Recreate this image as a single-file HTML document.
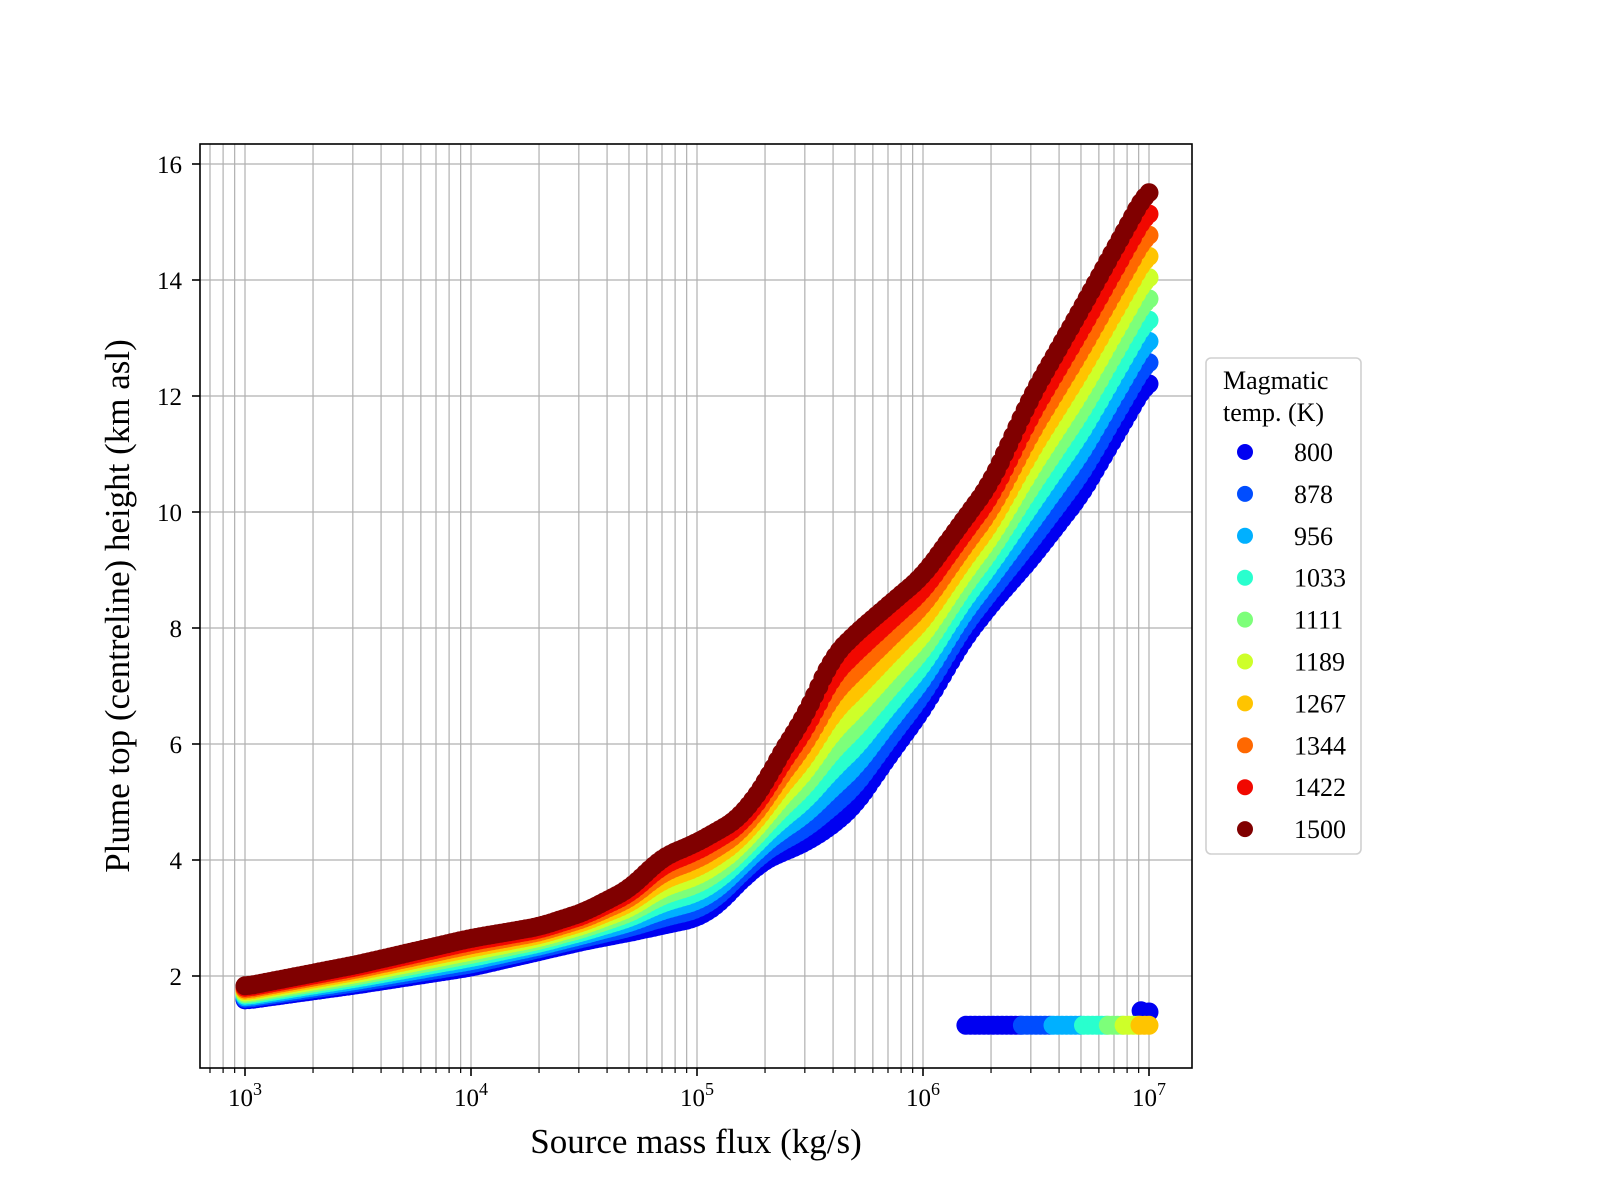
<!DOCTYPE html>
<html><head><meta charset="utf-8"><style>html,body{margin:0;padding:0;background:#fff}svg{display:block}text{font-family:"Liberation Serif",serif;fill:#000}</style></head>
<body>
<svg id="s" width="1600" height="1200" xmlns="http://www.w3.org/2000/svg">
<rect width="1600" height="1200" fill="#fff"/>
<g id="grid"></g>
<g id="data"></g>
<rect x="200" y="144" width="992" height="924" fill="none" stroke="#000" stroke-width="1.6"/>
<g id="ticks"></g>
<g font-size="25">
<text x="245" y="1106" text-anchor="middle">10<tspan dy="-11" font-size="18">3</tspan></text>
<text x="471" y="1106" text-anchor="middle">10<tspan dy="-11" font-size="18">4</tspan></text>
<text x="697" y="1106" text-anchor="middle">10<tspan dy="-11" font-size="18">5</tspan></text>
<text x="923" y="1106" text-anchor="middle">10<tspan dy="-11" font-size="18">6</tspan></text>
<text x="1149" y="1106" text-anchor="middle">10<tspan dy="-11" font-size="18">7</tspan></text>
<text x="182" y="985" text-anchor="end">2</text>
<text x="182" y="869" text-anchor="end">4</text>
<text x="182" y="753" text-anchor="end">6</text>
<text x="182" y="637" text-anchor="end">8</text>
<text x="182" y="521" text-anchor="end">10</text>
<text x="182" y="405" text-anchor="end">12</text>
<text x="182" y="289" text-anchor="end">14</text>
<text x="182" y="173" text-anchor="end">16</text>
</g>
<text x="696" y="1153" text-anchor="middle" font-size="35">Source mass flux (kg/s)</text>
<text transform="translate(129,606) rotate(-90)" text-anchor="middle" font-size="35">Plume top (centreline) height (km asl)</text>
<rect x="1206" y="358" width="155" height="496" rx="5" fill="#fff" stroke="#d0d0d0" stroke-width="1.6"/>
<text x="1223" y="389" font-size="26">Magmatic</text>
<text x="1223" y="421" font-size="26">temp. (K)</text>
<g id="leg" font-size="26"></g>
</svg>
<script>
(function(){
const NS="http://www.w3.org/2000/svg";
function el(p,t,a){const e=document.createElementNS(NS,t);for(const k in a)e.setAttribute(k,a[k]);p.appendChild(e);return e;}
const X=l=>245+(l-3)*226, Y=v=>164+(16-v)*58;
const grid=document.getElementById('grid'),ticks=document.getElementById('ticks');
for(let d=2;d<=6;d++)for(let m=1;m<=9;m++){const l=d+Math.log10(m);if(l<2.81||l>7.19)continue;const x=X(l);
 el(grid,'line',{x1:x,x2:x,y1:144,y2:1068,stroke:'#b0b0b0','stroke-width':1.2});
 el(ticks,'line',{x1:x,x2:x,y1:1068,y2:m==1?1076:1073,stroke:'#000','stroke-width':m==1?1.6:1.2});}
{const x=X(7);el(grid,'line',{x1:x,x2:x,y1:144,y2:1068,stroke:'#b0b0b0','stroke-width':1.2});el(ticks,'line',{x1:x,x2:x,y1:1068,y2:1076,stroke:'#000','stroke-width':1.6});}
for(let v=2;v<=16;v+=2){const y=Y(v);el(grid,'line',{x1:200,x2:1192,y1:y,y2:y,stroke:'#b0b0b0','stroke-width':1.2});el(ticks,'line',{x1:192,x2:200,y1:y,y2:y,stroke:'#000','stroke-width':1.6});}
const topC=[[3,1.82],[3.5,2.2],[4,2.65],[4.3,2.85],[4.5,3.1],[4.7,3.5],[4.78,3.8],[4.85,4.05],[5,4.3],[5.18,4.7],[5.3,5.3],[5.35,5.7],[5.48,6.5],[5.6,7.5],[5.7,7.9],[6,8.9],[6.3,10.5],[6.48,12],[6.7,13.5],[7,15.6]];
const botC=[[3,1.58],[3.5,1.85],[4,2.15],[4.5,2.6],[4.7,2.75],[5,3.0],[5.1,3.25],[5.18,3.6],[5.3,4.0],[5.48,4.3],[5.6,4.6],[5.7,4.95],[5.85,5.8],[6,6.6],[6.18,7.8],[6.3,8.4],[6.48,9.2],[6.7,10.3],[7,12.3]];
function interp(c,l){if(l<=c[0][0])return c[0][1];for(let i=1;i<c.length;i++)if(l<=c[i][0]){const t=(l-c[i-1][0])/(c[i][0]-c[i-1][0]);return c[i-1][1]+t*(c[i][1]-c[i-1][1]);}return c[c.length-1][1];}
function smooth(c,l){const w=0.05;let s=0,n=0;for(let d=-w;d<=w+1e-9;d+=w/5){let ll=Math.min(7,Math.max(3,l+d));s+=interp(c,ll);n++;}return s/n;}
const cols=['#0000f1','#004dff','#00b0ff','#29ffce','#7dff7a','#ceff29','#ffc400','#ff6800','#f10800','#800000'];
const names=['800','878','956','1033','1111','1189','1267','1344','1422','1500'];
const stray=[[6.19,6.44],[6.44,6.575],[6.575,6.71],[6.71,6.82],[6.82,6.89],[6.89,6.96],[6.96,7.0]];
const data=document.getElementById('data');const N=220,R=9.5;
for(let k=0;k<10;k++){const f=k/9;
 for(let i=0;i<N;i++){const l=3+4*i/(N-1);const b=smooth(botC,l),t=smooth(topC,l);const v=b+f*(t-b);
  el(data,'circle',{cx:X(l).toFixed(1),cy:Y(v).toFixed(1),r:R,fill:cols[k]});}
 if(k<7){const a=stray[k][0],b=stray[k][1];for(let l=a;l<=b+1e-6;l+=0.02)el(data,'circle',{cx:X(l).toFixed(1),cy:Y(1.15).toFixed(1),r:R,fill:cols[k]});}
 if(k==0){el(data,'circle',{cx:X(6.965),cy:Y(1.4),r:R,fill:cols[0]});el(data,'circle',{cx:X(7.0),cy:Y(1.38),r:R,fill:cols[0]});}
}
const leg=document.getElementById('leg');
for(let k=0;k<10;k++){const y=452+k*41.9;el(leg,'circle',{cx:1245,cy:y,r:8,fill:cols[k]});const t=el(leg,'text',{x:1294,y:y+9});t.textContent=names[k];}
})();
</script>
</body></html>
